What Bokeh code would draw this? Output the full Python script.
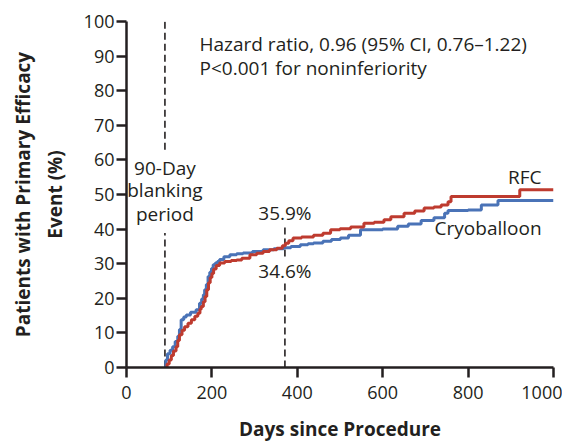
from bokeh.plotting import figure
from bokeh.models import Range1d, Label, FixedTicker
from bokeh.embed import file_html
from bokeh.resources import INLINE

# Kaplan-Meier style cumulative incidence (days, %)
cryo_days = [89, 92, 96, 102, 108, 114, 120, 124, 128, 134, 140, 150, 163, 171, 176, 180, 183,
             187, 191, 195, 199, 203, 208, 213, 218, 228, 242, 258, 273, 295, 320, 345, 368,
             385, 407, 425, 438, 460, 480, 501, 520, 548, 600, 635, 660, 690, 720, 745, 753,
             800, 831, 870, 1000]
cryo_pct = [0, 2.2, 4, 5, 6, 7.5, 9, 11, 13.8, 14.6, 15.2, 16, 16.7, 18.6, 19.8, 21, 22.5,
            24, 26.3, 27.5, 28.6, 29.7, 30.2, 30.6, 31.2, 32, 32.6, 32.9, 33.1, 33.5, 34, 34.3, 34.6,
            35, 35.5, 35.8, 36, 36.5, 37, 37.4, 38.2, 39.8, 40, 40.8, 41.5, 42.5, 43.3, 44.6, 45.4,
            45.5, 47, 48.3, 48.3]

rfc_days = [91, 95, 100, 105, 110, 116, 120, 124, 130, 136, 144, 152, 160, 167, 172, 175, 180,
            184, 188, 192, 196, 200, 204, 210, 218, 230, 245, 258, 270, 289, 305, 320, 335, 352,
            365, 372, 380, 390, 410, 438, 460, 478, 500, 525, 556, 580, 603, 619, 650, 675, 697,
            720, 737, 753, 760, 921, 1000]
rfc_pct = [0, 1, 2.2, 3.5, 4.8, 6, 7.8, 9.5, 10.8, 11.8, 12.8, 13.8, 14.8, 15.7, 16.8, 17.6, 19,
           20.5, 22.5, 24.5, 26, 27.2, 28.5, 29.5, 30.2, 30.6, 30.9, 31.1, 31.6, 32.6, 33, 33.5, 34, 34.5,
           35.2, 35.9, 36.6, 37.4, 37.7, 38.2, 38.8, 39.8, 40.1, 40.6, 41.7, 42, 42.7, 43.6, 44.6, 45.2, 46.1,
           46.4, 47, 47.9, 49.4, 51.4, 51.4]

x_ticks = [0, 200, 400, 600, 800, 1000]
y_ticks = [0, 10, 20, 30, 40, 50, 60, 70, 80, 90, 100]

blank_day = 90
blank_gap = [38.9, 62.9]
year_day = 371
year_gap = [24.5, 32.1]
year_top = 40.7

hr_text = ["Hazard ratio, 0.96 (95% CI, 0.76\u20131.22)", "P<0.001 for noninferiority"]
blank_text = ["90-Day", "blanking", "period"]

RED = "#BE3B2F"
BLUE = "#4A73B7"
INK = "#231F20"
FONT = "Open Sans"

p = figure(width=562, height=445, output_backend="svg", toolbar_location=None,
           x_range=Range1d(0, 1000), y_range=Range1d(0, 100),
           min_border_left=126, min_border_right=9, min_border_top=21, min_border_bottom=78)
p.outline_line_color = None
p.xgrid.grid_line_color = None
p.ygrid.grid_line_color = None

p.xaxis.ticker = FixedTicker(ticks=x_ticks)
p.yaxis.ticker = FixedTicker(ticks=y_ticks)
for ax in (p.xaxis, p.yaxis):
    ax.axis_line_width = 2.5
    ax.axis_line_color = INK
    ax.major_tick_line_width = 2.5
    ax.major_tick_line_color = INK
    ax.major_tick_out = 10
    ax.major_tick_in = 0
    ax.minor_tick_line_color = None
    ax.major_label_text_font = FONT
    ax.major_label_text_font_size = "18px"
    ax.major_label_text_color = INK
    ax.axis_label_text_font = FONT
    ax.axis_label_text_font_style = "bold"
    ax.axis_label_text_font_size = "19px"
    ax.axis_label_text_color = INK

p.xaxis.axis_label = "Days since Procedure"
p.xaxis.major_label_standoff = 8
p.xaxis.axis_label_standoff = 14
p.yaxis.axis_label = "Patients with Primary Efficacy\nEvent (%)"
p.yaxis.major_label_standoff = 2
p.yaxis.axis_label_standoff = 13

# dashed reference lines (blanking period end, 1 year)
dash = dict(line_color=INK, line_width=1.6, line_dash="7 4")
p.segment(x0=[blank_day, blank_day], y0=[0, blank_gap[1]],
          x1=[blank_day, blank_day], y1=[blank_gap[0], 100.5], **dash)
p.segment(x0=[year_day, year_day], y0=[0, year_gap[1]],
          x1=[year_day, year_day], y1=[year_gap[0], year_top], **dash)

p.step(cryo_days, cryo_pct, mode="after", line_color=BLUE, line_width=3)
p.step(rfc_days, rfc_pct, mode="after", line_color=RED, line_width=3)

def txt(x, y, s, align="left"):
    p.add_layout(Label(x=x, y=y, text=s, text_font=FONT, text_font_size="19px",
                       text_color=INK, text_align=align, text_baseline="alphabetic"))

txt(171, 93.4, hr_text[0])
txt(171, 86.6, hr_text[1])
for s, yy in zip(blank_text, [57.6, 51.2, 44.4]):
    txt(blank_day, yy, s, "center")
txt(year_day, 44.6, "35.9%", "center")
txt(year_day, 27.8, "34.6%", "center")
txt(972, 55, "RFC", "right")
txt(972, 40.4, "Cryoballoon", "right")

open("out.html", "w").write(file_html(p, INLINE))
